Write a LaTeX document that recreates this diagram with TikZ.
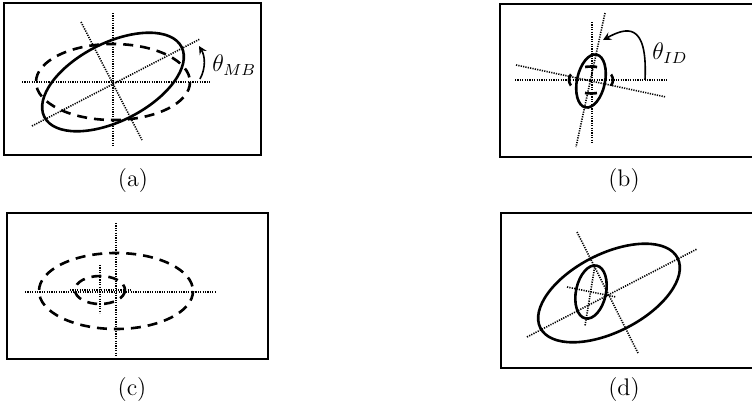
\documentclass[tikz,border=0pt]{standalone}
\begin{document}
\begin{tikzpicture}[x=0.5pt, y=-0.5pt, >=stealth,
    frame/.style={line width=1pt},
    axisline/.style={line width=0.8pt, dash pattern=on 0.6pt off 0.6pt},
    solidell/.style={line width=1.3pt},
    dashell/.style={line width=1.3pt, dash pattern=on 5pt off 3.5pt},
    caption/.style={font=\large}]
  \useasboundingbox (0,0) rectangle (752,413);

  % (a): dashed ellipse and the same ellipse turned by theta_MB
  \draw[frame] (4,3) rectangle (261,155);
  \draw[axisline] (22,82) -- (210,82);
  \draw[axisline] (113,13) -- (113,147);
  \draw[axisline] (32,126) -- (200,39);
  \draw[axisline] (81,22) -- (142,140);
  \draw[dashell] (113,82) ellipse [x radius=77, y radius=38];
  \draw[solidell, rotate around={27:(113,82)}] (113,82) ellipse [x radius=77, y radius=39];
  \draw[->, thick] (200,79) .. controls (206,68) and (205,56) .. (199,46);
  \node[anchor=west, inner sep=0pt] (thMB) at (212,65) {\large$\theta_{MB}$};
  \node[caption] (capA) at (133,181) {(a)};

  % (b): small ellipses, turned by theta_ID
  \draw[frame] (752,4) -- (500,4) -- (500,157) -- (752,157);
  \draw[axisline] (515,80) -- (668,80);
  \draw[axisline] (516,65) -- (666,97);
  \draw[axisline] (592,22) -- (592,143);
  \draw[axisline] (605,13) -- (576,147);
  \draw[line width=1.3pt, dash pattern=on 6pt off 8.14pt, dash phase=3pt]
    (591,80) ellipse [x radius=22, y radius=13.5];
  \draw[solidell, rotate around={-12:(591,81)}] (591,81) ellipse [x radius=14, y radius=27];
  \draw[->, thick] (645,80) .. controls (648,20) and (625,28) .. (603,40);
  \node[anchor=west, inner sep=0pt] (thID) at (652,53) {\large$\theta_{ID}$};
  \node[caption] (capB) at (624,181) {(b)};

  % (c): both dashed ellipses
  \draw[frame] (7,213) rectangle (268,359);
  \draw[axisline] (25,292) -- (215,292);
  \draw[axisline] (116,223) -- (116,356);
  \draw[axisline] (70,290) -- (132,290);
  \draw[axisline] (100,265) -- (100,313);
  \draw[dashell] (116,291) ellipse [x radius=77, y radius=38];
  \draw[dashell] (100,290) ellipse [x radius=25, y radius=14];
  \node[caption] (capC) at (132,390) {(c)};

  % (d): both solid ellipses
  \draw[frame] (752,213) -- (501,213) -- (501,368) -- (752,368);
  \draw[axisline] (527,337) -- (697,249);
  \draw[axisline] (577,232) -- (638,353);
  \draw[axisline] (567,287) -- (616,297);
  \draw[axisline] (595,265) -- (585,326);
  \draw[solidell, rotate around={27:(609,293)}] (609,293) ellipse [x radius=77, y radius=39];
  \draw[solidell, rotate around={-12:(591,292)}] (591,292) ellipse [x radius=15, y radius=27];
  \node[caption] (capD) at (624,390) {(d)};
\end{tikzpicture}
\end{document}
